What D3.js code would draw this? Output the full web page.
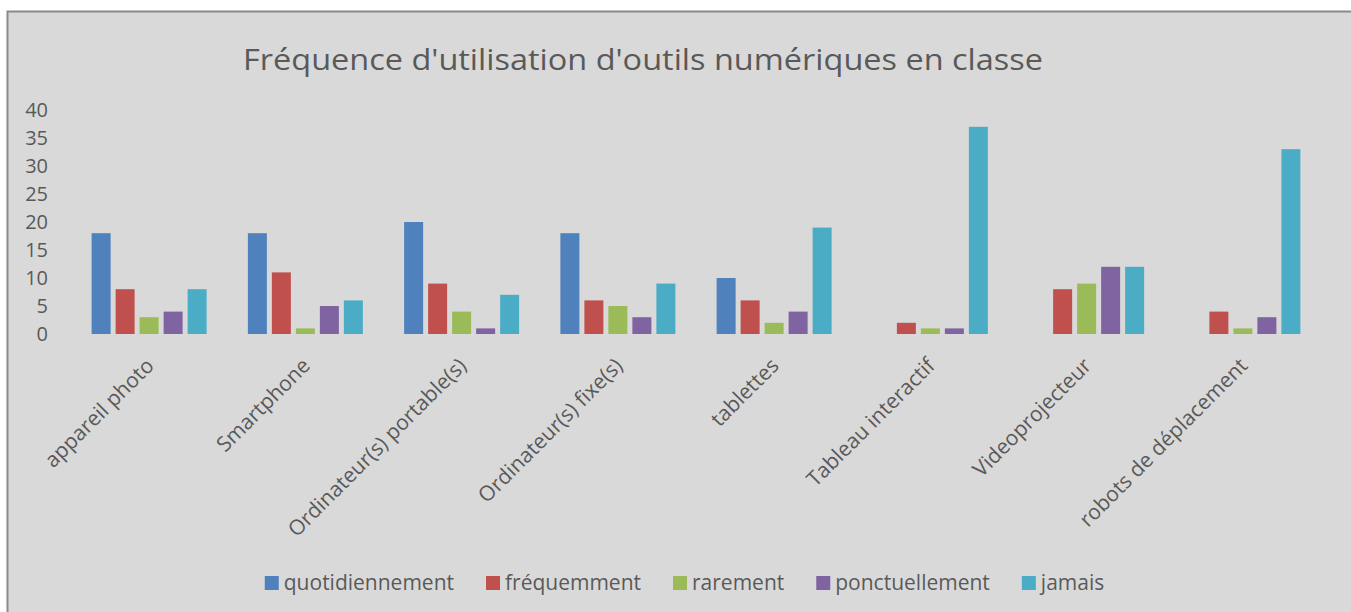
<!DOCTYPE html>
<html>
<head>
<meta charset="utf-8">
<script src="https://cdn.jsdelivr.net/npm/d3@7"></script>
<style>
  body { margin: 0; background: #fff; }
  svg { display: block; font-family: "Open Sans", sans-serif; }
</style>
</head>
<body>
<div id="chart"></div>
<script>
const categories = ["appareil photo", "Smartphone", "Ordinateur(s) portable(s)", "Ordinateur(s) fixe(s)",
                    "tablettes", "Tableau interactif", "Videoprojecteur", "robots de déplacement"];
const seriesNames = ["quotidiennement", "fréquemment", "rarement", "ponctuellement", "jamais"];
const seriesColors = ["#4f81bd", "#c0504d", "#9bbb59", "#8064a2", "#4bacc6"];
const quotidiennement = [18, 18, 20, 18, 10, 0, 0, 0];
const frequemment = [8, 11, 9, 6, 6, 2, 8, 4];
const rarement = [3, 1, 4, 5, 2, 1, 9, 1];
const ponctuellement = [4, 5, 1, 3, 4, 1, 12, 3];
const jamais = [8, 6, 7, 9, 19, 37, 12, 33];
const yTicks = [0, 5, 10, 15, 20, 25, 30, 35, 40];

const allSeries = [quotidiennement, frequemment, rarement, ponctuellement, jamais];

const width = 1351, height = 612;
const svg = d3.select("#chart").append("svg")
    .attr("width", width)
    .attr("height", height);

// chart area
svg.append("rect")
    .attr("x", 7.5).attr("y", 11.5)
    .attr("width", width).attr("height", height)
    .attr("fill", "#d9d9d9")
    .attr("stroke", "#8a8a8a")
    .attr("stroke-width", 2);

svg.append("text")
    .attr("x", 243).attr("y", 70)
    .attr("textLength", 800)
    .attr("lengthAdjust", "spacingAndGlyphs")
    .style("font-size", "30px")
    .style("fill", "#595959")
    .text("Fréquence d'utilisation d'outils numériques en classe");

const x0 = d3.scaleBand()
    .domain(categories)
    .range([71, 1321])
    .paddingInner(0.264)
    .paddingOuter(0.132);

const x1 = d3.scaleBand()
    .domain(seriesNames)
    .range([0, x0.bandwidth()])
    .paddingInner(5 / 24);

const y = d3.scaleLinear()
    .domain([0, 40])
    .range([334, 110]);

// y axis labels (no line, no ticks)
const yAxis = svg.append("g")
    .attr("transform", "translate(48,0)")
    .call(d3.axisLeft(y).tickValues(yTicks).tickSize(0).tickPadding(0));
yAxis.select(".domain").remove();
yAxis.selectAll("text")
    .style("font-size", "20px")
    .style("font-family", "'Open Sans', sans-serif")
    .style("fill", "#595959");

// bars
const groups = svg.append("g")
    .selectAll("g")
    .data(categories)
    .enter().append("g")
    .attr("transform", d => "translate(" + x0(d) + ",0)");

groups.selectAll("rect")
    .data((d, i) => seriesNames.map((s, j) => ({ s: s, v: allSeries[j][i], c: seriesColors[j] })))
    .enter().filter(d => d.v > 0).append("rect")
    .attr("x", d => x1(d.s))
    .attr("y", d => y(d.v))
    .attr("width", x1.bandwidth())
    .attr("height", d => y(0) - y(d.v))
    .attr("fill", d => d.c);

// category labels, rotated
svg.append("g")
    .selectAll("text")
    .data(categories)
    .enter().append("text")
    .attr("transform", d => "translate(" + (x0(d) + x0.bandwidth() / 2 + 6) + ",367) rotate(-45)")
    .attr("text-anchor", "end")
    .style("font-size", "21px")
    .style("fill", "#595959")
    .text(d => d);

// legend
const legend = svg.append("g");
const items = legend.selectAll("g")
    .data(seriesNames)
    .enter().append("g");
items.append("rect")
    .attr("width", 14).attr("height", 14)
    .attr("y", 576)
    .attr("fill", (d, i) => seriesColors[i]);
items.append("text")
    .attr("x", 19)
    .attr("y", 590)
    .style("font-size", "21px")
    .style("fill", "#595959")
    .text(d => d);

let widths = [];
items.each(function() {
    widths.push(this.querySelector("text").getComputedTextLength() + 19);
});
const gap = 32;
const total = d3.sum(widths) + gap * (widths.length - 1);
let pos = 684.5 - total / 2;
items.attr("transform", (d, i) => {
    const t = "translate(" + pos + ",0)";
    pos += widths[i] + gap;
    return t;
});
</script>
</body>
</html>
